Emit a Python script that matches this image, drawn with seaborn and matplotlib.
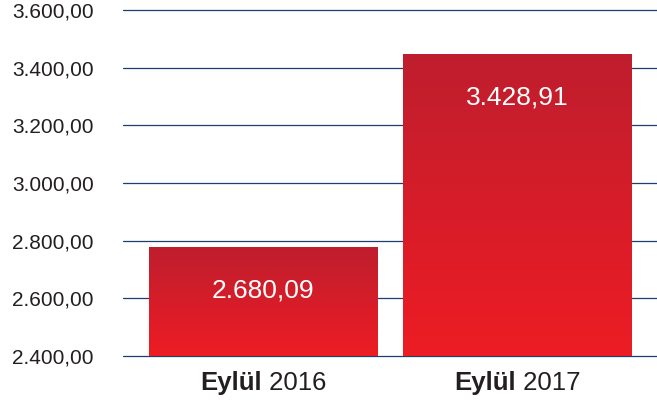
import numpy as np
import pandas as pd
import matplotlib
matplotlib.use("Agg")
import matplotlib.pyplot as plt
import seaborn as sns

# data
months = ["Eylül", "Eylül"]
years = ["2016", "2017"]
bar_heights = [2778, 3447]          # bar tops as drawn in the picture
label_values = [2680.09, 3428.91]   # printed values
y_ticks = [2400, 2600, 2800, 3000, 3200, 3400, 3600]
y_base = 2400


def tr_fmt(v):
    s = f"{v:,.2f}"
    return s.replace(",", "X").replace(".", ",").replace("X", ".")


sns.set_theme(style="white")
plt.rcParams["font.family"] = ["Liberation Sans", "DejaVu Sans"]

df = pd.DataFrame({"cat": [m + " " + y for m, y in zip(months, years)],
                   "value": bar_heights})

fig = plt.figure(figsize=(6.57, 4.03), dpi=100)
ax = fig.add_axes([0.1872, 0.1166, 0.8128, 0.8586])

sns.barplot(data=df, x="cat", y="value", color="#d21f2a", width=0.898,
            ax=ax, zorder=3, linewidth=0)

# bars rise from the axis floor, not from zero
for p, h in zip(ax.patches, bar_heights):
    p.set_y(y_base)
    p.set_height(h - y_base)

ax.set_ylim(2400, 3600)
ax.set_xlim(-0.551, 1.551)
ax.set_yticks(y_ticks)
ax.set_yticklabels([tr_fmt(t) for t in y_ticks], fontsize=15, color="#231f20")
ax.tick_params(axis="y", length=0, pad=21)
ax.set_xticks([])
ax.set_xlabel("")
ax.set_ylabel("")
for s in ax.spines.values():
    s.set_visible(False)
for t in y_ticks:
    ax.axhline(t, color="#1d3f6e", lw=0.9, zorder=1, clip_on=False)

# vertical gradient on bars
grad = np.linspace(0, 1, 256).reshape(-1, 1)
cmap = matplotlib.colors.LinearSegmentedColormap.from_list("bar", ["#ed1c24", "#bf1e2e"])
for p in ax.patches:
    x0, y0 = p.get_x(), p.get_y()
    w, h = p.get_width(), p.get_height()
    im = ax.imshow(grad, extent=[x0, x0 + w, y0, y0 + h], origin="lower",
                   cmap=cmap, aspect="auto", zorder=4)
    im.set_clip_path(p)
ax.set_xlim(-0.551, 1.551)
ax.set_ylim(2400, 3600)

for i, (h, v) in enumerate(zip(bar_heights, label_values)):
    ax.annotate(tr_fmt(v), xy=(i, h), xytext=(0, -31), textcoords="offset points",
                ha="center", va="center", color="white", fontsize=19, zorder=6)
    ax.annotate(months[i], xy=(i, 0), xycoords=("data", "axes fraction"),
                xytext=(-1, -19.5), textcoords="offset points", ha="right",
                va="center", fontsize=18.5, fontweight="bold", color="#231f20")
    ax.annotate(" " + years[i], xy=(i, 0), xycoords=("data", "axes fraction"),
                xytext=(-1, -19.5), textcoords="offset points", ha="left",
                va="center", fontsize=18.5, color="#231f20")

fig.savefig("out.png", dpi=100)
